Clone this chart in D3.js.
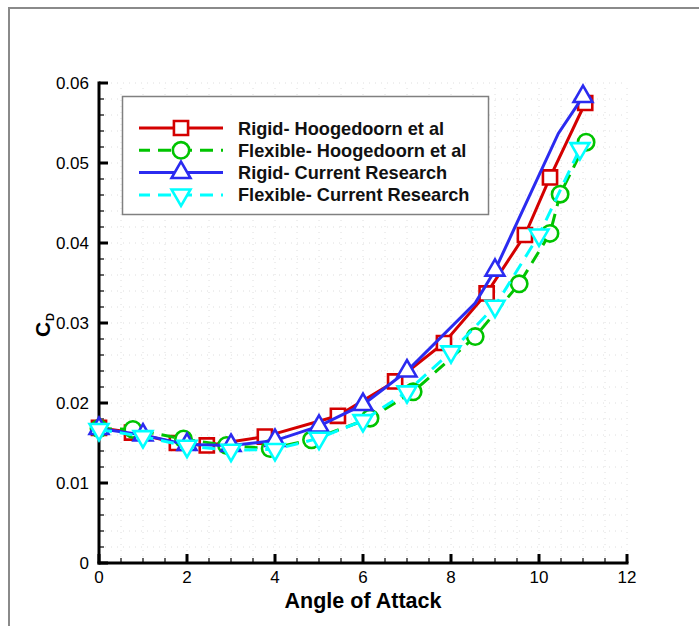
<!DOCTYPE html>
<meta charset="utf-8">
<script src="https://d3js.org/d3.v7.min.js"></script>
<style>
  body { margin: 0; background: #fff; }
  text { font-family: "Liberation Sans", Arial, sans-serif; }
  .tick-label { font-size: 17px; fill: #000; }
  .legend-text { font-size: 18.2px; font-weight: bold; fill: #111; }
</style>
<body>
<div id="chart"></div>
<script>

// ---- data ----
var rigidHoogX = [0, 0.75, 1.77, 2.45, 3.77, 5.43, 6.73, 7.84, 8.81, 9.68, 10.25, 11.05];
var rigidHoogY = [0.0169, 0.0163, 0.0150, 0.0147, 0.0158, 0.0184, 0.0227, 0.0275, 0.0337, 0.0410, 0.0482, 0.0575];

var flexHoogX = [0, 0.77, 1.92, 2.9, 3.89, 4.83, 6.16, 7.14, 8.55, 9.55, 10.25, 10.48, 11.07];
var flexHoogY = [0.0168, 0.0167, 0.0155, 0.0147, 0.0143, 0.0154, 0.0181, 0.0214, 0.0283, 0.0349, 0.0412, 0.0461, 0.0526];

var rigidCurX = [0, 1, 2, 3, 4, 5, 6, 7, 8.55, 9, 10.44, 11];
var rigidCurY = [0.0168, 0.0160, 0.0148, 0.0147, 0.0153, 0.0171, 0.0198, 0.0240, 0.0325, 0.0366, 0.0537, 0.0583];
var rigidCurMarked = [0, 1, 2, 3, 4, 5, 6, 7, 9, 11]; // indices that carry a marker

var flexCurX = [0, 1, 2, 3, 4, 5, 6, 7, 8, 9, 10, 10.93];
var flexCurY = [0.0167, 0.0158, 0.0146, 0.0141, 0.0142, 0.0156, 0.0178, 0.0214, 0.0264, 0.0321, 0.0410, 0.0518];

var legendLabels = ["Rigid- Hoogedoorn et al", "Flexible- Hoogedoorn et al", "Rigid- Current Research", "Flexible- Current Research"];
var xTicks = [0, 2, 4, 6, 8, 10, 12];
var yTicks = [0, 0.01, 0.02, 0.03, 0.04, 0.05, 0.06];

var W = 699, H = 626;

var svg = d3.select("#chart").append("svg")
  .attr("width", W).attr("height", H);

// outer frame (only top/left visible)
svg.append("rect")
  .attr("x", 9).attr("y", 8).attr("width", 760).attr("height", 700)
  .attr("fill", "none").attr("stroke", "#8a8a8a").attr("stroke-width", 2);

var x = d3.scaleLinear().domain([0, 12]).range([99, 627]);
var y = d3.scaleLinear().domain([0, 0.06]).range([563, 83]);

// dotted grid at minor spacing
var gx = d3.range(0.5, 12.01, 0.5);
var gy = d3.range(0.002, 0.0601, 0.002);
var grid = svg.append("g").attr("stroke", "#dedede").attr("stroke-width", 1).attr("stroke-dasharray", "1,5");
grid.selectAll(".gv").data(gx).enter().append("line")
  .attr("x1", function(d) { return x(d); }).attr("x2", function(d) { return x(d); })
  .attr("y1", y(0)).attr("y2", y(0.06));
grid.selectAll(".gh").data(gy).enter().append("line")
  .attr("y1", function(d) { return y(d); }).attr("y2", function(d) { return y(d); })
  .attr("x1", x(0)).attr("x2", x(12));

// axes: ticks point into the plot
var xAxis = svg.append("g").attr("transform", "translate(0," + y(0) + ")");
xAxis.selectAll(".mn").data(d3.range(0, 12.01, 0.5)).enter().append("line")
  .attr("x1", function(d) { return x(d); }).attr("x2", function(d) { return x(d); })
  .attr("y1", 0).attr("y2", function(d) { return d % 2 === 0 ? -9 : -5; })
  .attr("stroke", "#000").attr("stroke-width", function(d) { return d % 2 === 0 ? 3 : 1.2; });
xAxis.append("line").attr("x1", x(0) - 1.5).attr("x2", x(12) + 1.5)
  .attr("stroke", "#000").attr("stroke-width", 3);
xAxis.selectAll(".tl").data(xTicks).enter().append("text")
  .attr("class", "tick-label")
  .attr("x", function(d) { return x(d); }).attr("y", 20)
  .attr("text-anchor", "middle").text(function(d) { return d; });

var yAxis = svg.append("g").attr("transform", "translate(" + x(0) + ",0)");
yAxis.selectAll(".mn").data(d3.range(0, 30)).enter().append("line")
  .attr("y1", function(d) { return y(d * 0.002); }).attr("y2", function(d) { return y(d * 0.002); })
  .attr("x1", 0).attr("x2", function(d) { return d % 5 === 0 ? 9 : 5; })
  .attr("stroke", "#000").attr("stroke-width", function(d) { return d % 5 === 0 ? 3 : 1.2; });
yAxis.append("line").attr("x1", 0).attr("x2", 9).attr("y1", y(0.06)).attr("y2", y(0.06))
  .attr("stroke", "#000").attr("stroke-width", 3);
yAxis.append("line").attr("y1", y(0) + 1.5).attr("y2", y(0.06) - 1.5)
  .attr("stroke", "#000").attr("stroke-width", 3);
yAxis.selectAll(".tl").data(yTicks).enter().append("text")
  .attr("class", "tick-label")
  .attr("x", -10).attr("y", function(d) { return y(d) + 6; })
  .attr("text-anchor", "end").text(function(d) { return d === 0 ? "0" : d3.format(".2f")(d); });

// axis titles
svg.append("text").attr("x", 363).attr("y", 608).attr("text-anchor", "middle")
  .style("font-size", "21.5px").style("font-weight", "bold").text("Angle of Attack");
var yt = svg.append("text").attr("transform", "translate(50,325) rotate(-90)")
  .attr("text-anchor", "middle").style("font-weight", "bold");
yt.append("tspan").style("font-size", "21px").text("C");
yt.append("tspan").style("font-size", "11px").attr("dy", 4).attr("dx", 1).text("D");

// series
var series = [
  { xs: rigidHoogX, ys: rigidHoogY, color: "#d40000", dash: null, sym: d3.symbolSquare, size: 200, rot: 0, marked: null },
  { xs: flexHoogX, ys: flexHoogY, color: "#00c400", dash: "13,8", sym: d3.symbolCircle, size: 210, rot: 0, marked: null },
  { xs: rigidCurX, ys: rigidCurY, color: "#2b2bf0", dash: null, sym: d3.symbolTriangle, size: 155, rot: 0, marked: rigidCurMarked },
  { xs: flexCurX, ys: flexCurY, color: "#00ffff", dash: "13,8", sym: d3.symbolTriangle, size: 155, rot: 180, marked: null }
];

var line = d3.line().x(function(d) { return x(d[0]); }).y(function(d) { return y(d[1]); });

series.forEach(function(s) {
  var pts = s.xs.map(function(v, i) { return [v, s.ys[i]]; });
  svg.append("path").datum(pts)
    .attr("d", line).attr("fill", "none")
    .attr("stroke", s.color).attr("stroke-width", 3)
    .attr("stroke-dasharray", s.dash);
  var mp = s.marked ? s.marked.map(function(i) { return pts[i]; }) : pts;
  svg.append("g").selectAll("path").data(mp).enter().append("path")
    .attr("d", d3.symbol().type(s.sym).size(s.size))
    .attr("transform", function(d) { return "translate(" + x(d[0]) + "," + y(d[1]) + ") rotate(" + s.rot + ")"; })
    .attr("fill", "#fff").attr("stroke", s.color).attr("stroke-width", 2.6);
});

// legend
var lg = svg.append("g");
lg.append("rect").attr("x", 122.5).attr("y", 96.5).attr("width", 366).attr("height", 118)
  .attr("fill", "#fff").attr("stroke", "#808080").attr("stroke-width", 1.5);
series.forEach(function(s, i) {
  var ly = 128 + i * 22.3;
  lg.append("line").attr("x1", 139).attr("x2", 223).attr("y1", ly).attr("y2", ly)
    .attr("stroke", s.color).attr("stroke-width", 3).attr("stroke-dasharray", s.dash ? "13,8" : null)
    .attr("stroke-dashoffset", s.dash ? 2 : null);
  lg.append("path").attr("d", d3.symbol().type(s.sym).size(s.size))
    .attr("transform", "translate(181," + ly + ") rotate(" + s.rot + ")")
    .attr("fill", "#fff").attr("stroke", s.color).attr("stroke-width", 2.6);
  lg.append("text").attr("class", "legend-text").attr("x", 238).attr("y", ly + 6.5).text(legendLabels[i]);
});

</script>
</body>
